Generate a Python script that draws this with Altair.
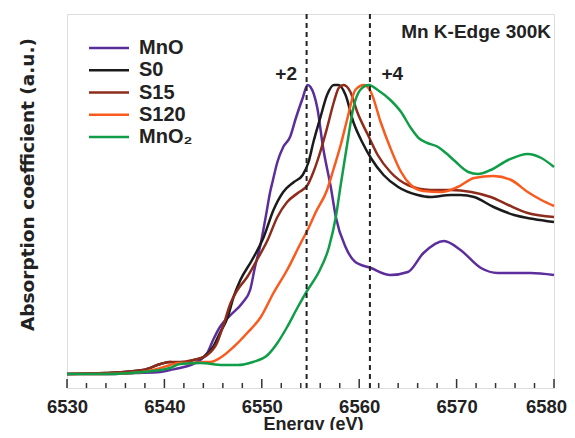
import altair as alt
import pandas as pd

# ---------------- data ----------------
series = ["MnO", "S0", "S15", "S120", "MnO2"]
labels = ["MnO", "S0", "S15", "S120", "MnO₂"]
colors = ["#5b2e9c", "#1b1b1b", "#8e2c1c", "#fa5a1d", "#0f9d48"]

mno_E = [6530, 6534, 6537, 6539.6, 6540.6, 6541.6, 6542.7, 6543.7, 6544.4, 6545.0, 6545.7,
         6546.8, 6548.0, 6548.8, 6549.3, 6549.9, 6550.4, 6550.9, 6551.1, 6551.6, 6552.2,
         6552.9, 6553.5, 6554.2, 6554.7, 6555.0, 6555.7, 6556.3, 6557.1, 6557.6, 6558.6,
         6559.6, 6561.2, 6563.2, 6565.0, 6566.6, 6568.7, 6570.4, 6572.5, 6574.2, 6577.6, 6580.0]
mno_v = [0, 0, 1, 2, 4, 6, 9, 14, 21, 34, 47,
         59, 71, 84, 107, 131, 157, 184, 192, 212, 227,
         237, 256, 276, 289, 287, 266, 226, 186, 157, 127,
         112, 106, 99, 102, 121, 133, 124, 106, 101, 101, 99]

s0_E = [6530, 6534, 6537.8, 6539.6, 6540.6, 6541.6, 6543.0, 6544.0, 6545.0, 6545.7, 6546.5,
        6547.1, 6547.8, 6549.0, 6550.2, 6551.2, 6552.2, 6553.3, 6554.2, 6554.8, 6555.3,
        6556.0, 6556.7, 6557.4, 6557.9, 6558.6, 6559.4, 6560.3, 6561.2, 6562.5, 6564.0,
        6566.0, 6567.3, 6569.4, 6570.4, 6571.8, 6573.8, 6575.9, 6577.9, 6580.0]
s0_v = [0, 1, 4, 10, 12, 11, 14, 17, 27, 41, 57,
        77, 94, 114, 137, 164, 182, 192, 199, 212, 232,
        256, 279, 289, 289, 279, 252, 232, 216, 199, 187,
        179, 177, 179, 179, 177, 167, 159, 155, 152]

s15_E = [6530, 6534, 6537.8, 6539.6, 6540.6, 6541.6, 6543.0, 6543.4, 6544.4, 6545.4, 6546.0,
         6546.8, 6547.5, 6548.5, 6549.5, 6550.6, 6551.6, 6552.6, 6553.7, 6554.7, 6555.3,
         6556.0, 6556.7, 6557.4, 6557.9, 6558.4, 6559.1, 6559.8, 6560.9, 6561.9, 6563.2,
         6565.0, 6567.3, 6569.4, 6571.5, 6573.5, 6575.3, 6577.3, 6580.0]
s15_v = [0, 1, 4, 10, 12, 12, 14, 15, 19, 31, 47,
         71, 84, 97, 114, 134, 157, 172, 181, 189, 202,
         222, 246, 272, 286, 289, 282, 262, 239, 219, 202,
         189, 184, 184, 182, 177, 169, 161, 157]

s120_E = [6530, 6534, 6537.8, 6539.6, 6540.6, 6541.6, 6543.0, 6544.0, 6544.7, 6545.7, 6547.1,
          6548.5, 6549.9, 6551.2, 6552.6, 6554.0, 6554.8, 6555.5, 6556.7, 6557.4, 6558.1,
          6558.8, 6559.6, 6560.5, 6561.2, 6562.2, 6563.2, 6564.3, 6565.3, 6566.6, 6568.4,
          6570.1, 6571.8, 6573.8, 6575.6, 6577.3, 6578.7, 6580.0]
s120_v = [0, 0, 2, 6, 9, 11, 11, 12, 12, 16, 27,
          41, 57, 81, 104, 131, 146, 161, 184, 206, 229,
          256, 284, 289, 282, 252, 226, 202, 189, 183, 182,
          187, 196, 198, 194, 182, 174, 168]

mno2_E = [6530, 6534, 6537.8, 6539.6, 6540.6, 6541.6, 6543.7, 6546.0, 6547.5, 6549.1, 6550.6,
          6551.6, 6552.6, 6553.7, 6554.7, 6555.8, 6556.9, 6557.6, 6558.1, 6558.8, 6559.4,
          6560.1, 6561.0, 6561.9, 6563.2, 6564.3, 6565.3, 6566.1, 6567.0, 6568.1, 6568.9,
          6569.7, 6571.2, 6572.2, 6573.5, 6575.3, 6577.3, 6578.7, 6580.0]
mno2_v = [0, 0, 2, 4, 6, 10, 11, 9, 9, 12, 19,
          31, 47, 67, 84, 101, 127, 157, 189, 232, 266,
          284, 289, 284, 274, 262, 246, 236, 231, 227, 221,
          214, 202, 200, 204, 214, 220, 216, 207]

edge_E = [6554.6, 6561.1]          # dashed reference lines
ann_text = ["+2", "+4"]
ann_E = [6552.5, 6563.4]
ann_v = [300, 300]
title_text = ["Mn K-Edge 300K"]
title_E = [6579.7]
title_v = [342]

major_ticks = [6530, 6540, 6550, 6560, 6570, 6580]
minor_ticks = [6532, 6534, 6536, 6538, 6542, 6544, 6546, 6548, 6552, 6554, 6556, 6558,
               6562, 6564, 6566, 6568, 6572, 6574, 6576, 6578]

YDOM = [-14, 360]
XDOM = [6530, 6580]
FONT = "Liberation Sans"

# ---------------- tables ----------------
all_E = [mno_E, s0_E, s15_E, s120_E, mno2_E]
all_v = [mno_v, s0_v, s15_v, s120_v, mno2_v]
curves_df = pd.concat(
    [pd.DataFrame({"E": e, "v": v, "series": s, "order": list(range(len(e)))})
     for s, e, v in zip(series, all_E, all_v)],
    ignore_index=True,
)
legend_df = pd.DataFrame({"series": series, "label": labels})
edge_df = pd.DataFrame({"E": edge_E})
ann_df = pd.DataFrame({"E": ann_E, "v": ann_v, "t": ann_text})
title_df = pd.DataFrame({"E": title_E, "v": title_v, "t": title_text})
major_df = pd.DataFrame({"E": major_ticks})
minor_df = pd.DataFrame({"E": minor_ticks})

color_scale = alt.Scale(domain=series, range=colors)
xs = alt.Scale(domain=XDOM, nice=False, zero=False)
ys = alt.Scale(domain=YDOM, nice=False, zero=False)

curves = alt.Chart(curves_df).mark_line(strokeWidth=2.5, interpolate="monotone").encode(
    x=alt.X("E:Q", scale=xs,
            axis=alt.Axis(values=major_ticks, format="d", labelFontSize=18.5, labelFont=FONT,
                          labelFontWeight="bold", labelColor="#222", ticks=False, domain=False,
                          grid=False, labelPadding=9, labelFlush=False, labelOverlap=False,
                          labelOffset={"expr": "datum.value == 6580 ? -8 : 0"},
                          title="Energy (eV)", titleFont=FONT, titleFontSize=18,
                          titleFontWeight="bold", titleColor="#222", titleAlign="center",
                          titleBaseline="alphabetic", titleX=246, titleY=41)),
    y=alt.Y("v:Q", scale=ys,
            axis=alt.Axis(title="Absorption coefficient (a.u.)", labels=False, ticks=False,
                          domain=False, grid=False, titleFont="DejaVu Sans", titleFontSize=18.5,
                          titleFontWeight="bold", titleColor="#222", titleAngle=270,
                          titleAlign="center", titleBaseline="middle", titleX=-40, titleY=170)),
    color=alt.Color("series:N", scale=color_scale, legend=None),
    order="order:Q",
)

edges = alt.Chart(edge_df).mark_rule(color="#222", strokeWidth=2, strokeDash=[5, 4]).encode(
    x=alt.X("E:Q", scale=xs)
)

major = alt.Chart(major_df).mark_rule(color="#333", strokeWidth=1.5).encode(
    x=alt.X("E:Q", scale=xs), y=alt.value(374), y2=alt.value(365)
)
minor = alt.Chart(minor_df).mark_rule(color="#333", strokeWidth=1.5).encode(
    x=alt.X("E:Q", scale=xs), y=alt.value(374), y2=alt.value(369)
)

ann = alt.Chart(ann_df).mark_text(font=FONT, fontSize=19, fontWeight="bold", color="#222",
                                  align="center", baseline="middle").encode(
    x=alt.X("E:Q", scale=xs), y=alt.Y("v:Q", scale=ys, axis=None), text="t:N"
)
ttl = alt.Chart(title_df).mark_text(font=FONT, fontSize=19, fontWeight="bold", color="#222",
                                    align="right", baseline="middle").encode(
    x=alt.X("E:Q", scale=xs), y=alt.Y("v:Q", scale=ys, axis=None), text="t:N"
)

leg_y = alt.Y("series:N",
              scale=alt.Scale(type="point", domain=series, range=[34, 123], padding=0),
              axis=None)
leg_lines = alt.Chart(legend_df).mark_rule(strokeWidth=2.5).encode(
    x=alt.value(22), x2=alt.value(62), y=leg_y,
    color=alt.Color("series:N", scale=color_scale, legend=None),
)
leg_text = alt.Chart(legend_df).mark_text(font=FONT, fontSize=20, fontWeight="bold",
                                          color="#222", align="left",
                                          baseline="middle").encode(
    x=alt.value(72), y=leg_y, text="label:N"
)

chart = alt.layer(
    curves, edges, major, minor, ann, ttl, leg_lines, leg_text
).resolve_scale(y="independent").properties(
    width=487, height=374,
    padding={"left": 59, "top": 6, "right": 13, "bottom": 42},
    autosize=alt.AutoSizeParams(type="none"),
).configure_view(stroke="#333", strokeWidth=2).configure(background="white")

chart.save("out.html", embed_options={"renderer": "svg", "actions": False})
